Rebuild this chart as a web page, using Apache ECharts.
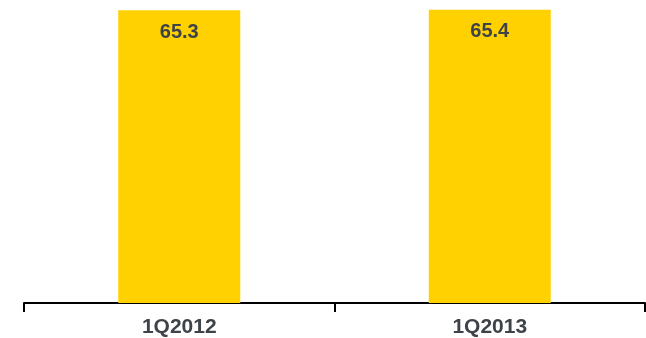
<!DOCTYPE html>
<html>
<head>
<meta charset="utf-8">
<script src="https://cdn.jsdelivr.net/npm/echarts@6/dist/echarts.min.js"></script>
<style>
  html, body { margin: 0; padding: 0; background: #fff; }
  #chart { width: 646px; height: 338px; }
</style>
</head>
<body>
<div id="chart"></div>
<script>
var categories = ['1Q2012', '1Q2013'];
var values = [65.3, 65.4];

var myChart = echarts.init(document.getElementById('chart'));

var option = {
    animation: false,
    grid: {
        left: 24,
        right: 1,
        top: 7,
        bottom: 34
    },
    xAxis: {
        type: 'category',
        data: categories,
        axisLine: { lineStyle: { color: '#000', width: 2 } },
        axisTick: { show: true, length: 9, lineStyle: { color: '#000', width: 2 } },
        axisLabel: {
            margin: 14,
            color: '#3d4349',
            fontFamily: 'Liberation Sans, Arial, sans-serif',
            fontWeight: 'bold',
            fontSize: 21
        }
    },
    yAxis: {
        type: 'value',
        min: 0,
        max: 66,
        show: false,
        splitLine: { show: false }
    },
    series: [{
        type: 'bar',
        data: values,
        barWidth: 122,
        itemStyle: { color: '#ffd100' },
        label: {
            show: true,
            position: 'insideTop',
            distance: 12,
            color: '#3d4349',
            fontFamily: 'Liberation Sans, Arial, sans-serif',
            fontWeight: 'bold',
            fontSize: 20
        }
    }]
};

myChart.setOption(option);
</script>
</body>
</html>
